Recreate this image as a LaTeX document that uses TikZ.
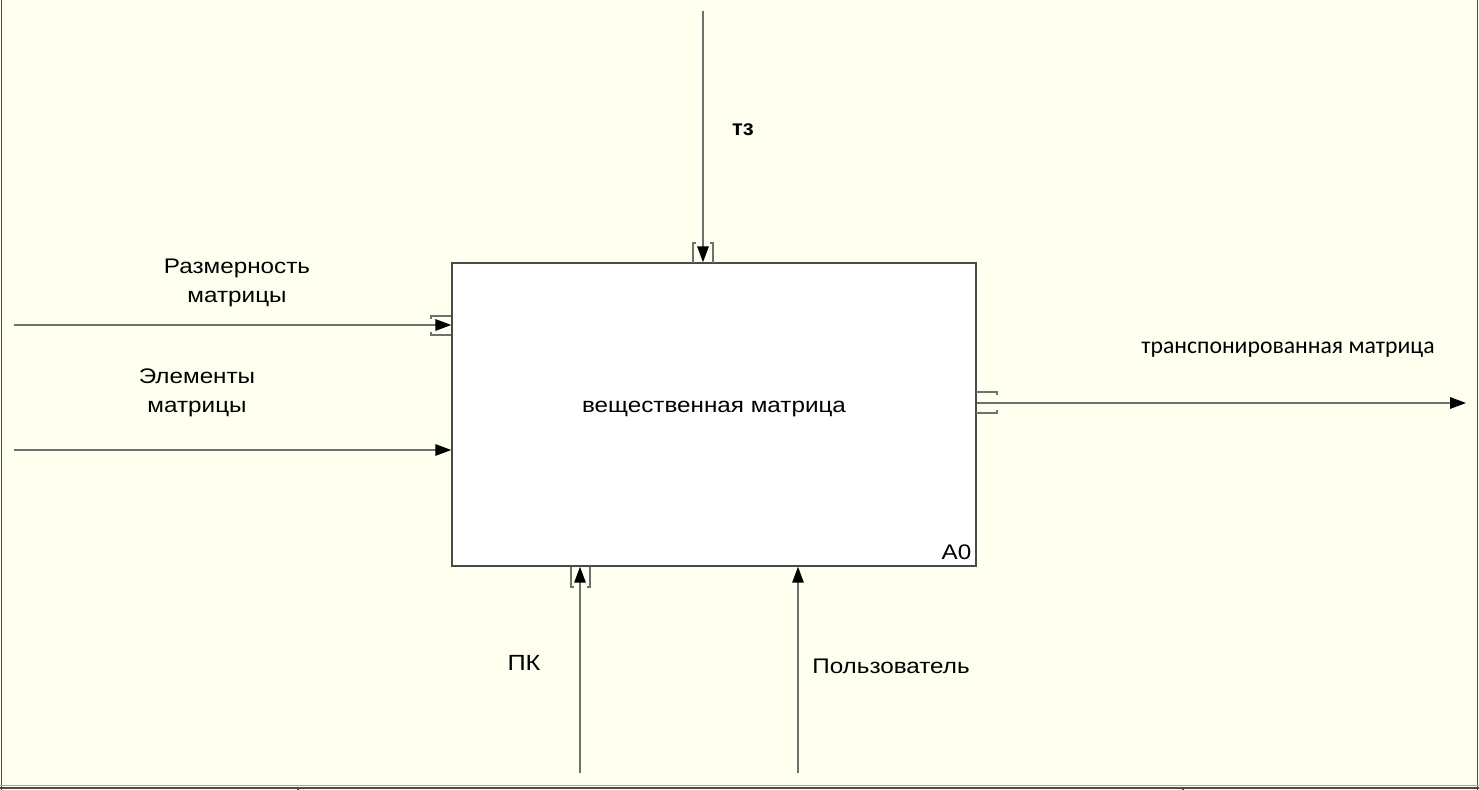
\documentclass[tikz,border=0pt]{standalone}
\usepackage{fontspec}
\setmainfont[FakeStretch=1.15]{Liberation Sans}
\newfontfamily\plainsans{Liberation Sans}
\newfontfamily\calib{Carlito}
\usetikzlibrary{arrows.meta,positioning,calc}
\definecolor{bgcream}{HTML}{FFFFF0}
\definecolor{linegray}{HTML}{707070}
\definecolor{framegray}{HTML}{4A4A4A}

\tikzset{
  flow/.style={draw=linegray, line width=0.85pt, -{Triangle[length=9pt,width=6.5pt,color=black]}},
  tunnel/.style={draw=linegray, line width=0.7pt},
  lbl/.style={font=\fontsize{12}{16.5}\selectfont, align=center, inner sep=0pt},
}

\begin{document}
\begin{tikzpicture}[x=0.02cm,y=-0.02cm]
  \useasboundingbox (0,0) rectangle (1479,790);
  \fill[bgcream] (0,0) rectangle (1479,787);
  \fill[white] (0,787) rectangle (1479,790);

  % Frame
  \draw[framegray, line width=1pt] (1.5,0) -- (1.5,790);
  \draw[framegray, line width=1pt] (1477.5,0) -- (1477.5,790);
  \draw[gray!70, line width=0.6pt] (0,785.5) -- (1479,785.5);
  \draw[framegray, line width=0.8pt] (0,788) -- (1479,788);
  \foreach \x in {298,1183} {
    \draw[framegray, line width=0.8pt] (\x,788) -- (\x,790);
  }

  % Activity box
  \node[draw=framegray, fill=white, line width=0.9pt, minimum width=10.48cm,
        minimum height=6.06cm, inner sep=0pt] (act) at (714,414.5) {};
  \node[lbl] (actname) at (714,409) {вещественная матрица};
  \node[lbl, anchor=south east] (actnum) at ($(act.south east)+(-5,-7)$) {A0};

  % Arrow ends
  \coordinate (in1) at (14,325);
  \coordinate (in2) at (14,450);
  \coordinate (ctl) at (703,11);
  \coordinate (out) at (1466,403);
  \coordinate (mech1) at (580,773);
  \coordinate (mech2) at (798,773);

  % Arrows
  \draw[flow] (in1) -- (in1 -| act.west);
  \draw[flow] (in2) -- (in2 -| act.west);
  \draw[flow] (ctl) -- (ctl |- act.north);
  \draw[flow] (act.east |- out) -- (out);
  \draw[flow] (mech1) -- (mech1 |- act.south);
  \draw[flow] (mech2) -- (mech2 |- act.south);

  % Tunnel brackets
  \draw[tunnel] (431,319) -- (431,316) -- (451,316);
  \draw[tunnel] (431,332) -- (431,335) -- (451,335);
  \draw[tunnel] (696,243) -- (693,243) -- (693,263);
  \draw[tunnel] (710,243) -- (713,243) -- (713,263);
  \draw[tunnel] (976,392) -- (997,392) -- (997,395);
  \draw[tunnel] (976,413) -- (997,413) -- (997,410);
  \draw[tunnel] (571,567) -- (571,587) -- (574,587);
  \draw[tunnel] (590,567) -- (590,587) -- (587,587);

  % Labels
  \node[lbl] (in1lbl) at (237,283) {Размерность\\матрицы};
  \node[lbl] (in2lbl) at (197,393) {Элементы\\матрицы};
  \node[lbl, font=\plainsans\bfseries\fontsize{12.5}{14}\selectfont] (ctllbl) at (743,130) {тз};
  \node[lbl, font=\calib\fontsize{13.5}{16}\selectfont] (outlbl) at (1288,350) {транспонированная матрица};
  \node[lbl, font=\fontsize{12.5}{16}\selectfont] (mech1lbl) at (524,663) {ПК};
  \node[lbl] (mech2lbl) at (891,666) {Пользователь};
\end{tikzpicture}
\end{document}
